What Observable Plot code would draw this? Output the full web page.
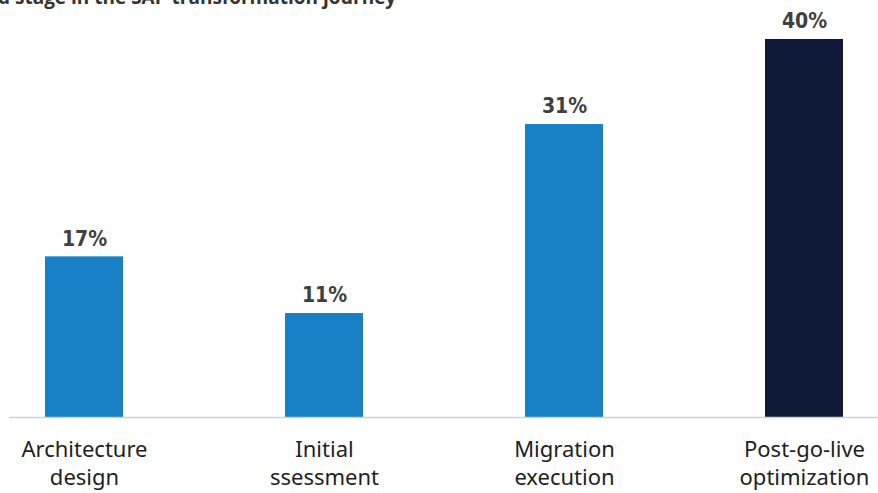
<!DOCTYPE html>
<html>
<head>
<meta charset="utf-8">
<script src="https://cdn.jsdelivr.net/npm/d3@7"></script>
<script src="https://cdn.jsdelivr.net/npm/@observablehq/plot@0.6"></script>
<style>
  html, body { margin: 0; padding: 0; background: #fff; overflow: hidden; }
  #wrap { position: relative; width: 878px; height: 493px; overflow: hidden; }
  #title { position: absolute; left: -2px; top: -16px; font-family: "Open Sans", "Noto Sans", sans-serif; font-weight: 700; font-size: 19px; color: #333; white-space: nowrap; }
  #chart { position: absolute; left: 0; top: 0; }
</style>
</head>
<body>
<div id="wrap">
  <div id="title">d stage in the SAP transformation journey</div>
  <div id="chart"></div>
</div>
<script>
const categories = ["Architecture design", "Initial ssessment", "Migration execution", "Post-go-live optimization"];
const tickLabels = ["Architecture\ndesign", "Initial\nssessment", "Migration\nexecution", "Post-go-live\noptimization"];
const values = [17, 11, 31, 40];
const colors = ["#1880c5", "#1880c5", "#1880c5", "#0e1a38"];

const data = categories.map((c, i) => ({category: c, value: values[i], color: colors[i], label: values[i] + "%"}));

const chart = Plot.plot({
  width: 878,
  height: 493,
  marginTop: 39,
  marginBottom: 76,
  marginLeft: 43,
  marginRight: 34,
  style: {fontFamily: "Noto Sans, sans-serif", background: "transparent"},
  x: {domain: categories, paddingInner: 0.676, paddingOuter: 0, label: null},
  y: {domain: [0, 40], axis: null},
  marks: [
    Plot.barY(data, {x: "category", y: "value", fill: "color"}),
    Plot.ruleY([0], {stroke: "#d0d0d0", strokeWidth: 1.5, insetLeft: -34, insetRight: -34}),
    Plot.text(data, {x: "category", y: "value", text: "label", dy: -18, fontSize: 21, fontWeight: "bold", fill: "#404040", fontFamily: "DejaVu Sans Condensed, Liberation Sans Narrow, sans-serif"}),
    Plot.axisX({tickSize: 0, tickPadding: 20, fontSize: 22, lineHeight: 1.25, fill: "#222", tickFormat: d => tickLabels[categories.indexOf(d)], label: null})
  ]
});
document.getElementById("chart").appendChild(chart);
</script>
</body>
</html>
